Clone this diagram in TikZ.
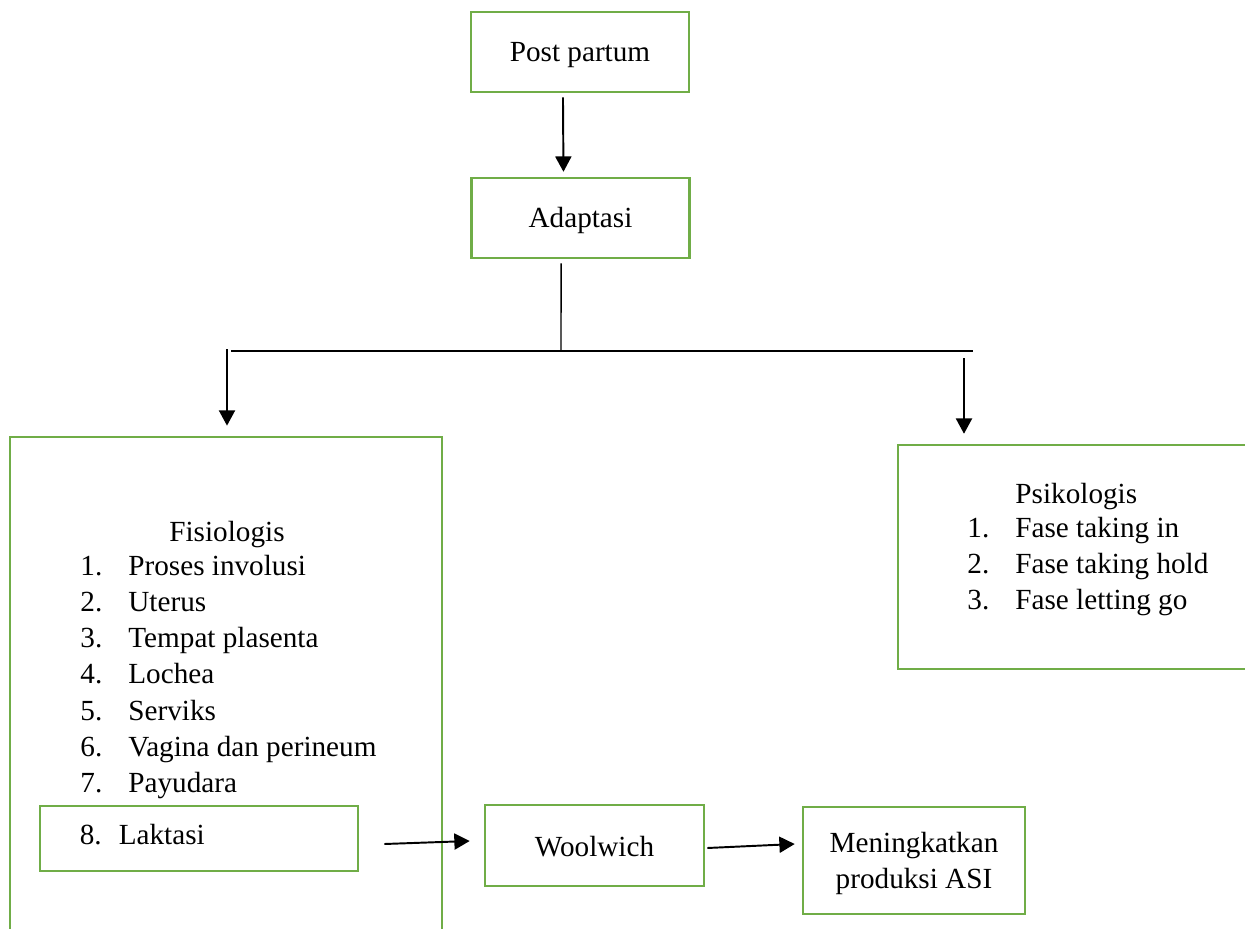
\documentclass[tikz,border=0pt]{standalone}
\usepackage{fontspec}
\setmainfont{Liberation Serif}
\usetikzlibrary{arrows.meta,calc}

\definecolor{boxgreen}{HTML}{70AD47}

\tikzstyle{box}=[draw=boxgreen,line width=1.1pt,inner sep=0pt,align=center,font=\fontsize{12}{14.9}\selectfont]
\tikzstyle{listtext}=[inner sep=0pt,anchor=base west,font=\fontsize{12}{14.9}\selectfont]
\tikzstyle{arr}=[draw=black,line width=0.8pt,-{Triangle[length=6.3pt,width=6.6pt]}]
\tikzstyle{link}=[draw=black,line width=0.6pt]

\begin{document}
\begin{tikzpicture}[x=0.411pt,y=-0.411pt]

   \useasboundingbox (0,0) rectangle (1245,929);
   \clip (0,0) rectangle (1245,929);

   % Top boxes

   \node[box,minimum width=89.6pt,minimum height=32.9pt,text height=8.2pt,text depth=0pt] (post) at (580,52) {Post partum};
   \node[box,minimum width=89.6pt,minimum height=32.9pt,text height=8.2pt,text depth=0pt] (adapt) at (580.5,218) {Adaptasi};

   \draw[arr] ([xshift=-7pt,yshift=-1.6pt]post.south) -- ([xshift=-7pt,yshift=2pt]adapt.north);

   % Split

   \coordinate (split) at (561,351);
   \coordinate (hl) at (231,351);
   \coordinate (hr) at (973,351);
   \coordinate (fisin) at (227,349);
   \coordinate (psikin) at (964,358);

   \draw[link] ([xshift=-8pt,yshift=-1.6pt]adapt.south) -- (split);
   \draw[link] (hl) -- (hr);

   % Fisiologis

   \node[box,minimum width=177.6pt,minimum height=208.8pt] (fis) at (226,691) {};

   \node[listtext,anchor=base] (fistitle) at (227,541) {Fisiologis};
   \node[listtext] (fislist) at (80,575) {\begin{tabular}[t]{@{}p{19.7pt}@{}l@{}}
      1. & Proses involusi\\
      2. & Uterus\\
      3. & Tempat plasenta\\
      4. & Lochea\\
      5. & Serviks\\
      6. & Vagina dan perineum\\
      7. & Payudara
   \end{tabular}};

   \node[box,minimum width=130.7pt,minimum height=26.7pt,text width=97.9pt,align=left,text height=4.6pt,text depth=0pt] (laktasi) at (199,838.5) {\makebox[16pt][l]{8.}Laktasi};

   % Psikologis

   \node[box,minimum width=148.8pt,minimum height=92pt] (psik) at (1079,557) {};

   \node[listtext] (psiktitle) at (1015,503) {Psikologis};
   \node[listtext] (psiklist) at (967,537) {\begin{tabular}[t]{@{}p{19.7pt}@{}l@{}}
      1. & Fase taking in\\
      2. & Fase taking hold\\
      3. & Fase letting go
   \end{tabular}};

   \draw[arr] (fisin) -- ($(fis.north)+(1,-10)$);
   \draw[arr] (psikin) -- ($(psikin |- psik.north)+(0,-10)$);

   % Bottom row

   \node[box,minimum width=90pt,minimum height=33.3pt,text height=9.4pt,text depth=0pt] (wool) at (594.5,845.5) {Woolwich};
   \node[box,minimum width=91.2pt,minimum height=44pt,text depth=0pt] (mening) at (914,860.5) {Meningkatkan\\produksi ASI};

   \draw[arr] ($(laktasi.east)+(25,5.5)$) -- ($(wool.west)+(-14,-4.5)$);
   \draw[arr] ($(wool.east)+(2,2.5)$) -- ($(mening.west)+(-7,-16.5)$);

\end{tikzpicture}
\end{document}
